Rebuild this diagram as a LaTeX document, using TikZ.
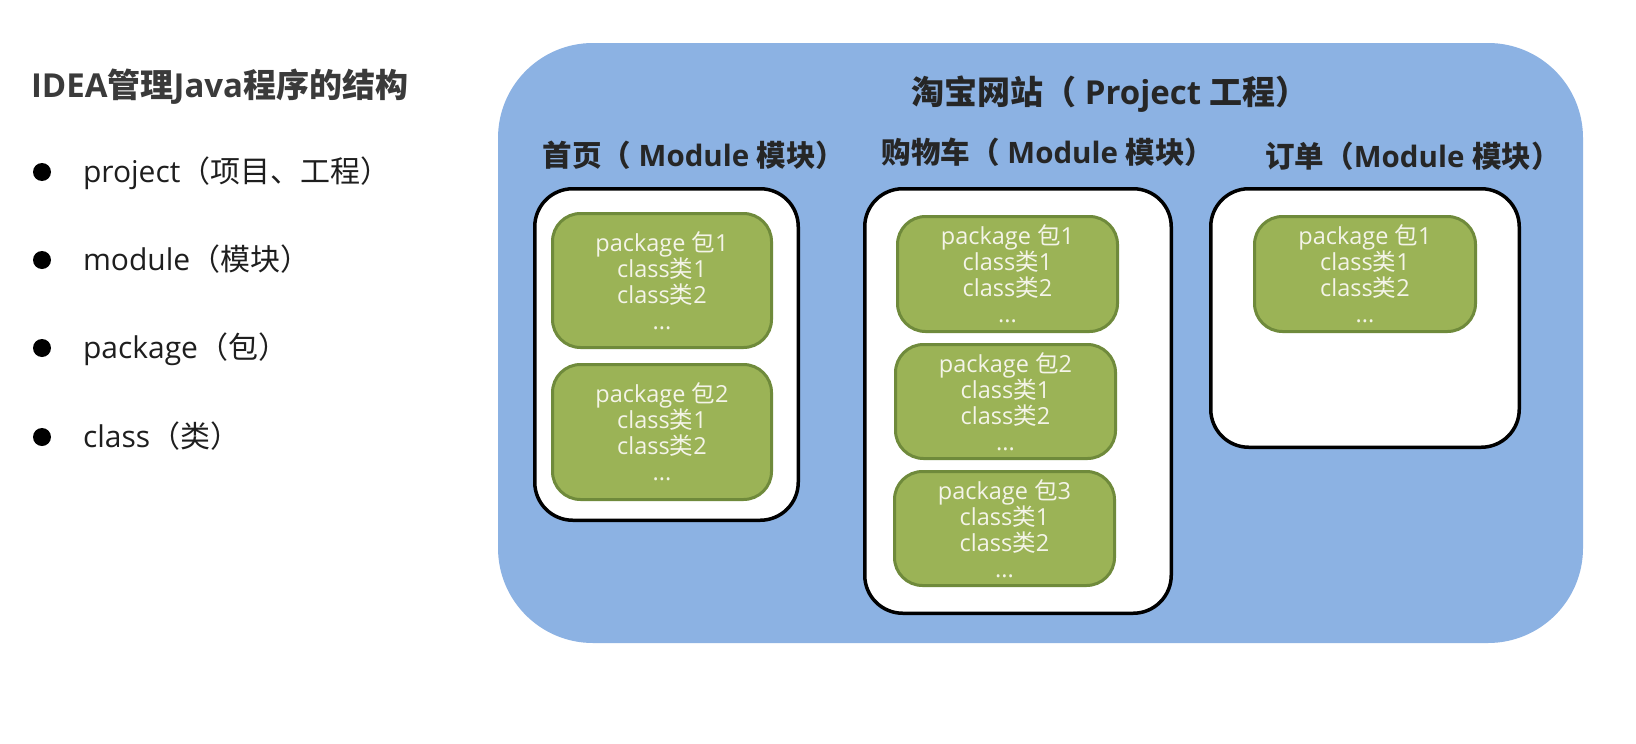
\documentclass[tikz,border=0pt]{standalone}
\usepackage{fontspec}
\setmainfont{Open Sans}
\newfontfamily\zhfont{Noto Sans CJK SC}
\newcommand\zh[1]{{\zhfont #1}}
\newcommand\pkgtext[1]{package \zh{包}#1\\class\zh{类}1\\class\zh{类}2\\...}
\definecolor{bluebg}{HTML}{8CB2E3}
\definecolor{pkgfill}{HTML}{9BB356}
\definecolor{pkgdraw}{HTML}{6F8A3B}
\definecolor{pkgfg}{HTML}{F4F4E8}
\definecolor{titlegray}{HTML}{3A3A3A}
\definecolor{labeldark}{HTML}{262626}
\definecolor{listdark}{HTML}{1E1E1E}
\begin{document}
\begin{tikzpicture}[x=1pt,y=-1pt,
  every node/.style={inner sep=0pt, outer sep=0pt},
  projectbox/.style={fill=bluebg, draw=none, rounded corners=95pt},
  modulebox/.style={fill=white, draw=black, line width=3.5pt, rounded corners=38pt},
  pkgbox/.style={fill=pkgfill, draw=pkgdraw, line width=3pt, rounded corners=28pt,
     text=pkgfg, align=center, font=\fontsize{23.5}{26}\selectfont},
  bigtitle/.style={anchor=base, text=labeldark, font=\fontsize{33}{38}\selectfont\bfseries},
  modtitle/.style={anchor=base, text=labeldark, font=\fontsize{29.5}{34}\selectfont\bfseries},
  lefttitle/.style={anchor=base west, text=titlegray, font=\fontsize{33}{38}\selectfont\bfseries},
  listtext/.style={anchor=base west, text=listdark, font=\fontsize{30}{34}\selectfont},
  bullet/.style={circle, fill=black, minimum size=18pt}
]
\useasboundingbox[fill=white] (0,0) rectangle (1636,744);

% left side
\node[lefttitle] (lt) at (31,97) {IDEA\zh{管理}Java\zh{程序的结构}};
\node[bullet] (b1) at (42,172) {};
\node[bullet] (b2) at (42,260) {};
\node[bullet] (b3) at (42,348) {};
\node[bullet] (b4) at (42,437) {};
\node[listtext] (t1) at (83,182) {project\zh{（项目、工程）}};
\node[listtext] (t2) at (83,270) {module\zh{（模块）}};
\node[listtext] (t3) at (83,358) {package\zh{（包）}};
\node[listtext] (t4) at (83,447) {class\zh{（类）}};

% project
\node[projectbox, minimum width=1085pt, minimum height=600pt] (proj) at (1040.5,343) {};
\node[bigtitle] (ptitle) at (1110,104) {\zh{淘宝网站（} Project \zh{工程）}};

% modules
\node[modtitle] (m1t) at (694,166) {\zh{首页（} Module \zh{模块）}};
\node[modtitle] (m2t) at (1048,163) {\zh{购物车（} Module \zh{模块）}};
\node[modtitle] (m3t) at (1413,167) {\zh{订单（}Module \zh{模块）}};

\node[modulebox, minimum width=263.5pt, minimum height=331.5pt] (m1) at (666.5,354.5) {};
\node[modulebox, minimum width=306.5pt, minimum height=424.5pt] (m2) at (1018,401) {};
\node[modulebox, minimum width=308.5pt, minimum height=258.5pt] (m3) at (1365,318) {};

% packages
\node[pkgbox, minimum width=219pt, minimum height=134pt] (m1p1) at (662,280.5) {\pkgtext{1}};
\node[pkgbox, minimum width=219pt, minimum height=135pt] (m1p2) at (662,432) {\pkgtext{2}};
\node[pkgbox, minimum width=220pt, minimum height=115pt] (m2p1) at (1007.5,274) {\pkgtext{1}};
\node[pkgbox, minimum width=220pt, minimum height=114pt] (m2p2) at (1005.5,401.5) {\pkgtext{2}};
\node[pkgbox, minimum width=220pt, minimum height=114pt] (m2p3) at (1004.5,528.5) {\pkgtext{3}};
\node[pkgbox, minimum width=221pt, minimum height=115pt] (m3p1) at (1365,274) {\pkgtext{1}};
\end{tikzpicture}
\end{document}
